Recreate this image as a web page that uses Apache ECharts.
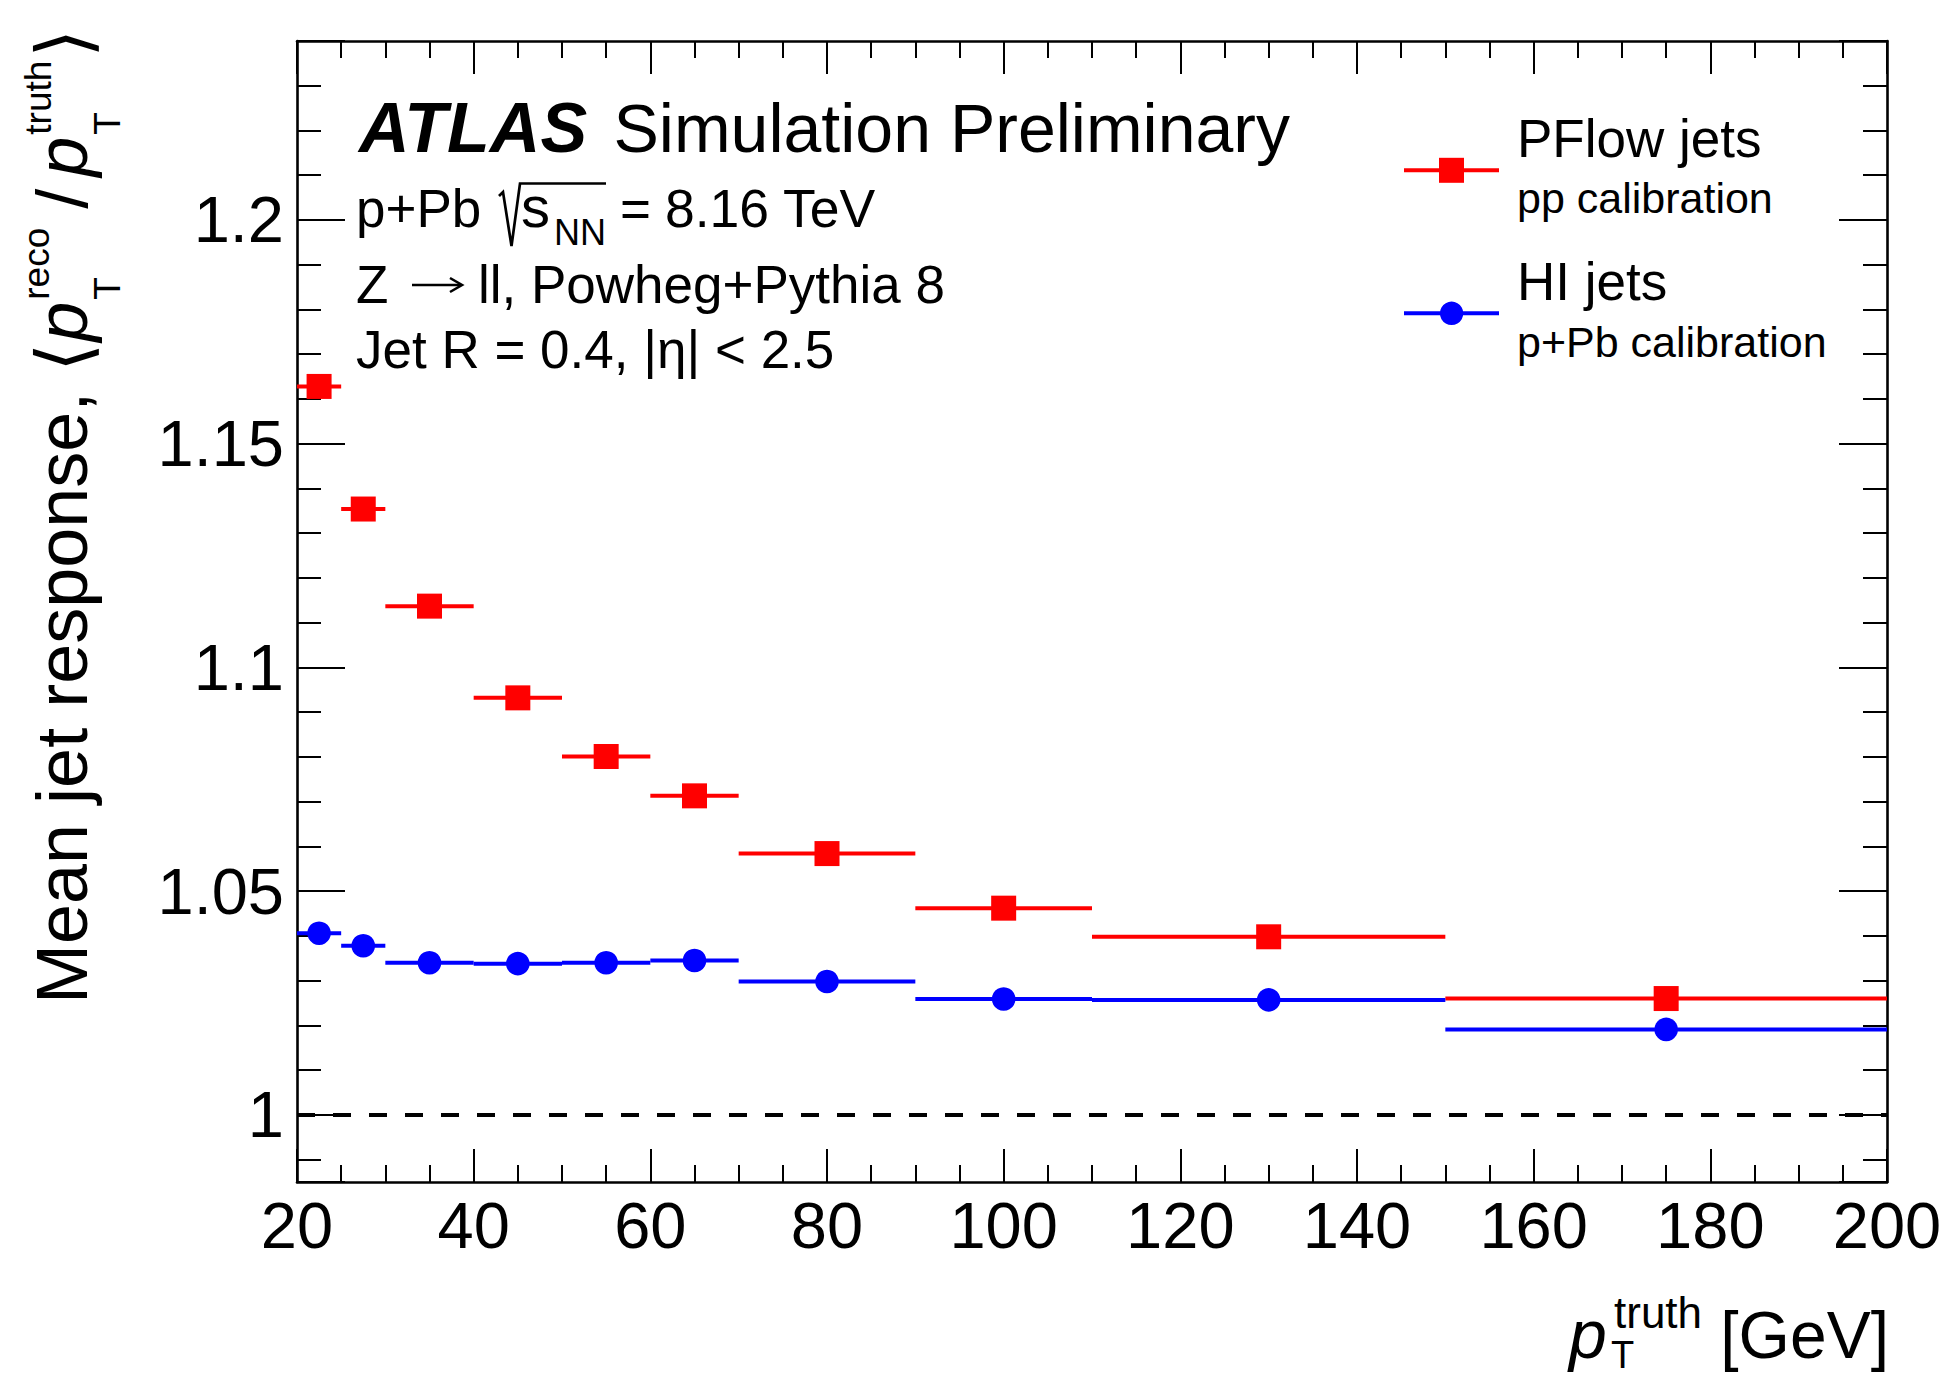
<!DOCTYPE html>
<html><head><meta charset="utf-8">
<script src="https://cdn.jsdelivr.net/npm/echarts@6/dist/echarts.min.js"></script>
<style>html,body{margin:0;padding:0;background:#fff;}#chart{width:1951px;height:1376px;}</style>
</head><body><div id="chart"></div>
<script>
// ---- data ----
const binLow    = [20, 25, 30, 40, 50, 60, 70, 90, 110, 150];
const binHigh   = [25, 30, 40, 50, 60, 70, 90, 110, 150, 200];
const binCenter = [22.5, 27.5, 35, 45, 55, 65, 80, 100, 130, 175];
const pflowResponse = [1.1628, 1.1354, 1.1137, 1.0932, 1.0801, 1.0713, 1.0584, 1.0462, 1.0398, 1.0260];
const hiResponse    = [1.0406, 1.0378, 1.0340, 1.0338, 1.0340, 1.0345, 1.0298, 1.0259, 1.0257, 1.0191];
const xMin = 20, xMax = 200, xStep = 20;
const yMin = 0.985, yMax = 1.24, yLabelStep = 0.05;
const referenceLine = 1;

// ---- styling helpers ----
const FF = '"Liberation Sans", Arial, Helvetica, "DejaVu Sans", sans-serif';
const RED = '#ff0000', BLUE = '#0000ff';
const mctx = document.createElement('canvas').getContext('2d');
function tw(s, size, italic, bold) {
  mctx.font = (italic ? 'italic ' : '') + (bold ? 'bold ' : '') + size + 'px ' + FF;
  return mctx.measureText(s).width;
}
function T(s, x, base, size, o) {
  o = o || {};
  const al = o.align || 'left';
  return {type: 'text', x: x, y: base - 0.35 * size, silent: true,
    style: {text: s, fill: o.color || '#000', fontSize: size, fontFamily: FF,
      fontStyle: o.italic ? 'italic' : 'normal', fontWeight: o.bold ? 'bold' : 'normal',
      textAlign: al, align: al, textVerticalAlign: 'middle', verticalAlign: 'middle'}};
}

// y-axis title (rotated group)
const YF = 72, YS = 37, YB = 74;
const yt = [];
let lx = 0;
yt.push(T('Mean jet response,', lx, 0, YF)); lx += tw('Mean jet response, ', YF);
yt.push(T('\u27E8', lx, 2, YB)); lx += tw('\u27E8', YB) + 1;
yt.push(T('p', lx, 0, YF, {italic: true})); lx += tw('p', YF, true) + 2;
yt.push(T('reco', lx, -38, YS)); yt.push(T('T', lx, 33, YS));
lx += Math.max(tw('reco', YS), tw('T', YS)) + tw(' ', YF) * 0.95;
yt.push(T('/', lx, 0, YF)); lx += tw('/', YF) + tw(' ', YF) * 0.6;
yt.push(T('p', lx, 0, YF, {italic: true})); lx += tw('p', YF, true) + 2;
yt.push(T('truth', lx, -36, YS)); yt.push(T('T', lx, 33, YS));
lx += Math.max(tw('truth', YS), tw('T', YS)) + 3;
yt.push(T('\u27E9', lx, 2, YB));

const graphics = [
  // ATLAS label block
  T('ATLAS', 359, 152, 70, {bold: true, italic: true}),
  T('Simulation Preliminary', 613.5, 152, 68),
  T('p+Pb', 356, 227, 53),
  {type: 'polyline', silent: true, shape: {points: [[499, 196], [503, 192], [511.5, 246], [520, 183.5], [606, 183.5]]},
    style: {stroke: '#000', lineWidth: 2.7, fill: null}},
  T('s', 521, 227, 58),
  T('NN', 554, 245, 36),
  T('=', 620, 227, 53),
  T('8.16 TeV', 665, 227, 53.5),
  T('Z', 356, 303, 53),
  {type: 'line', silent: true, shape: {x1: 412, y1: 285, x2: 461, y2: 285}, style: {stroke: '#000', lineWidth: 2.6}},
  {type: 'polyline', silent: true, shape: {points: [[450, 278], [462, 285], [450, 292]]}, style: {stroke: '#000', lineWidth: 2.6, fill: null}},
  T('ll, Powheg+Pythia 8', 478, 303, 53),
  T('Jet R = 0.4, |\u03B7| < 2.5', 356, 368, 53),
  // legend
  {type: 'line', silent: true, shape: {x1: 1404, y1: 170.3, x2: 1499, y2: 170.3}, style: {stroke: RED, lineWidth: 4}},
  {type: 'rect', silent: true, shape: {x: 1439, y: 157.8, width: 25, height: 25}, style: {fill: RED}},
  {type: 'line', silent: true, shape: {x1: 1404, y1: 313.3, x2: 1499, y2: 313.3}, style: {stroke: BLUE, lineWidth: 4}},
  {type: 'circle', silent: true, shape: {cx: 1451.6, cy: 313.3, r: 11.7}, style: {fill: BLUE}},
  T('PFlow jets', 1517, 157, 53),
  T('pp calibration', 1517, 213, 43),
  T('HI jets', 1517, 300, 53),
  T('p+Pb calibration', 1517, 357, 43),
  // x-axis title
  T('p', 1569, 1358, 68, {italic: true}),
  T('truth', 1614, 1328, 44),
  T('T', 1611, 1368, 38),
  T('[GeV]', 1889, 1358, 66, {align: 'right'}),
  // y-axis title
  {type: 'group', x: 87, y: 1004, rotation: Math.PI / 2, silent: true, children: yt}
];

function errBar(color) {
  return function (params, api) {
    const p1 = api.coord([api.value(0), api.value(2)]);
    const p2 = api.coord([api.value(1), api.value(2)]);
    return {type: 'line', shape: {x1: p1[0], y1: p1[1], x2: p2[0], y2: p2[1]},
      style: {stroke: color, lineWidth: 4}};
  };
}

const axisLineStyle = {show: true, onZero: false, lineStyle: {color: '#000', width: 2.6}};
function xAxisCfg(pos, showLabel) {
  return {type: 'value', position: pos, min: xMin, max: xMax, interval: xStep,
    axisLine: axisLineStyle,
    axisTick: {show: true, inside: true, length: 33, lineStyle: {color: '#000', width: 2}},
    minorTick: {show: true, splitNumber: 4, length: 17, lineStyle: {color: '#000', width: 2}},
    splitLine: {show: false}, minorSplitLine: {show: false},
    axisLabel: {show: showLabel, fontSize: 65, fontFamily: FF, color: '#000', margin: 11,
      showMinLabel: true, showMaxLabel: true}};
}
function yAxisCfg(pos, showLabel) {
  return {type: 'value', position: pos, min: yMin, max: yMax, splitNumber: 5,
    axisLine: axisLineStyle,
    axisTick: {show: true, inside: true, length: 48, lineStyle: {color: '#000', width: 2}},
    minorTick: {show: true, splitNumber: 5, length: 24, lineStyle: {color: '#000', width: 2}},
    splitLine: {show: false}, minorSplitLine: {show: false},
    axisLabel: {show: showLabel, fontSize: 65, fontFamily: FF, color: '#000', margin: 13,
      formatter: function (v) {
        const k = Math.round(v / yLabelStep);
        return Math.abs(v - k * yLabelStep) < 1e-6 ? String(Math.round(v * 100) / 100) : '';
      }}};
}

const chart = echarts.init(document.getElementById('chart'), null, {renderer: 'svg', width: 1951, height: 1376});
chart.setOption({
  animation: false,
  backgroundColor: '#fff',
  grid: {left: 297, right: 64, top: 41, bottom: 194},
  xAxis: [xAxisCfg('bottom', true), xAxisCfg('top', false)],
  yAxis: [yAxisCfg('left', true), yAxisCfg('right', false)],
  graphic: graphics,
  series: [
    {type: 'custom', name: 'PFlow bins', renderItem: errBar(RED), silent: true,
      encode: {x: [0, 1], y: 2},
      data: binLow.map((lo, i) => [lo, binHigh[i], pflowResponse[i]]), z: 3},
    {type: 'custom', name: 'HI bins', renderItem: errBar(BLUE), silent: true,
      encode: {x: [0, 1], y: 2},
      data: binLow.map((lo, i) => [lo, binHigh[i], hiResponse[i]]), z: 3},
    {type: 'scatter', name: 'PFlow jets', symbol: 'rect', symbolSize: 25, silent: true,
      itemStyle: {color: RED, opacity: 1},
      data: binCenter.map((c, i) => [c, pflowResponse[i]]), z: 4,
      markLine: {silent: true, symbol: ['none', 'none'], label: {show: false},
        lineStyle: {color: '#000', width: 4, type: [18, 18]},
        emphasis: {disabled: true},
        data: [{yAxis: referenceLine}]}},
    {type: 'scatter', name: 'HI jets', symbol: 'circle', symbolSize: 23.6, silent: true,
      itemStyle: {color: BLUE, opacity: 1},
      data: binCenter.map((c, i) => [c, hiResponse[i]]), z: 4}
  ]
});
</script>
</body></html>
